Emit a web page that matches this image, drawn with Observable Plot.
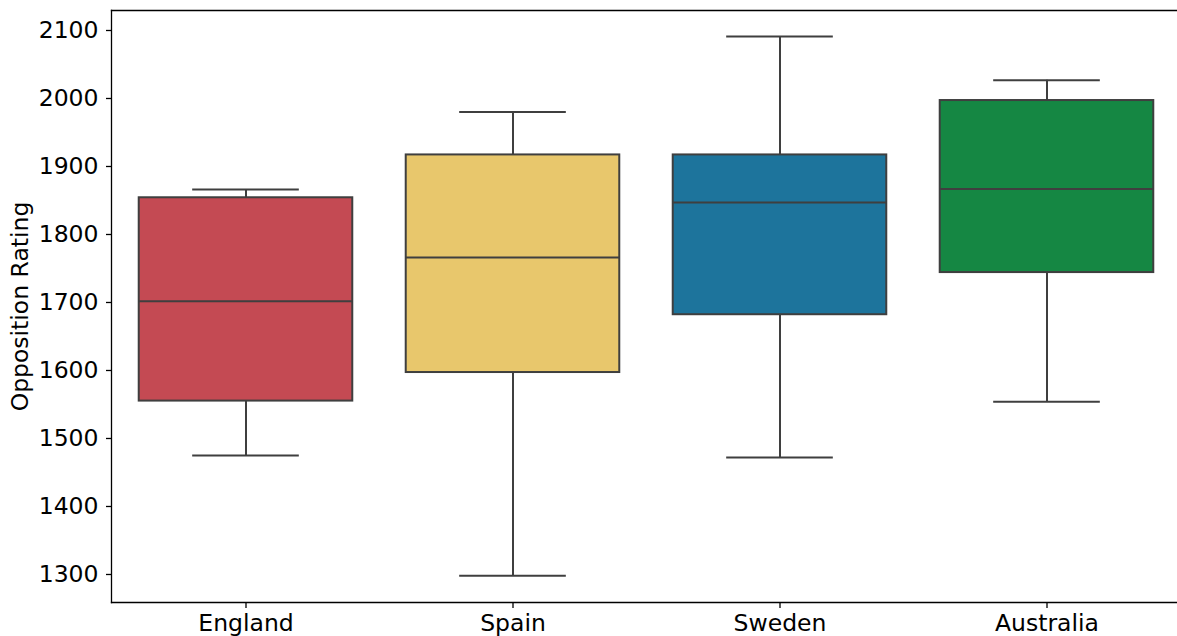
<!DOCTYPE html>
<html>
<head>
<meta charset="utf-8">
<script src="https://cdn.jsdelivr.net/npm/d3@7"></script>
<script src="https://cdn.jsdelivr.net/npm/@observablehq/plot@0.6"></script>
<style>
  html, body { margin: 0; padding: 0; background: #fff; overflow: hidden; }
  #chart { width: 1177px; height: 636px; overflow: hidden; }
  #chart svg { display: block; max-width: none !important; height: 636px !important; }
</style>
</head>
<body>
<div id="chart"></div>
<script>
const countries = ["England", "Spain", "Sweden", "Australia"];
const whiskerLow = [1475, 1298, 1472, 1554];
const q1 = [1555, 1597, 1682, 1744];
const median = [1702, 1766, 1847, 1867];
const q3 = [1854, 1917, 1917, 1997];
const whiskerHigh = [1866, 1980, 2091, 2027];
const boxColors = ["#c44a53", "#e8c76c", "#1d749c", "#158743"];
const yTicks = [1300, 1400, 1500, 1600, 1700, 1800, 1900, 2000, 2100];
const yLabel = "Opposition Rating";

const rows = countries.map((c, i) => ({
  country: c, lo: whiskerLow[i], q1: q1[i], med: median[i], q3: q3[i], hi: whiskerHigh[i]
}));

// the original figure is cropped slightly on the right: the axes extend past 1177px
const W = 1180, H = 636;
const mL = 111, mR = 0, mT = 10, mB = 34;
const step = (W - mL - mR) / countries.length;
const boxInset = step * 0.1;
const capInset = step * 0.3;
const edge = "#3f3f3f";
const font = "DejaVu Sans";
const fs = 23.5;
const spine = { stroke: "#000", strokeWidth: 1.3 };

const chart = Plot.plot({
  width: W, height: H,
  marginLeft: mL, marginRight: mR, marginTop: mT, marginBottom: mB,
  style: { fontFamily: font, background: "#fff", color: "#000", maxWidth: "none" },
  x: { domain: countries, padding: 0 },
  y: { domain: [1258.8, 2129.4] },
  color: { domain: countries, range: boxColors },
  marks: [
    Plot.ruleX(rows, { x: "country", y1: "lo", y2: "q1", stroke: edge, strokeWidth: 2 }),
    Plot.ruleX(rows, { x: "country", y1: "q3", y2: "hi", stroke: edge, strokeWidth: 2 }),
    Plot.tickY(rows, { x: "country", y: "lo", stroke: edge, strokeWidth: 2, insetLeft: capInset, insetRight: capInset }),
    Plot.tickY(rows, { x: "country", y: "hi", stroke: edge, strokeWidth: 2, insetLeft: capInset, insetRight: capInset }),
    Plot.barY(rows, { x: "country", y1: "q1", y2: "q3", fill: "country", stroke: edge, strokeWidth: 2, insetLeft: boxInset, insetRight: boxInset }),
    Plot.tickY(rows, { x: "country", y: "med", stroke: edge, strokeWidth: 2, insetLeft: boxInset, insetRight: boxInset }),
    Plot.frame({ anchor: "top", ...spine }),
    Plot.frame({ anchor: "bottom", ...spine }),
    Plot.frame({ anchor: "left", ...spine }),
    Plot.axisY({ ticks: yTicks, tickFormat: d => String(d), tickSize: 5, tickPadding: 8, fontSize: fs, label: null, stroke: "#000", strokeWidth: 1.3 }),
    Plot.axisX({ tickSize: 6, tickPadding: 6, fontSize: fs, label: null, stroke: "#000", strokeWidth: 1.3 }),
    Plot.text([yLabel], { frameAnchor: "left", textAnchor: "middle", text: d => d, rotate: -90, dx: -91, fontSize: fs, fill: "#000" })
  ]
});
document.getElementById("chart").appendChild(chart);
</script>
</body>
</html>
